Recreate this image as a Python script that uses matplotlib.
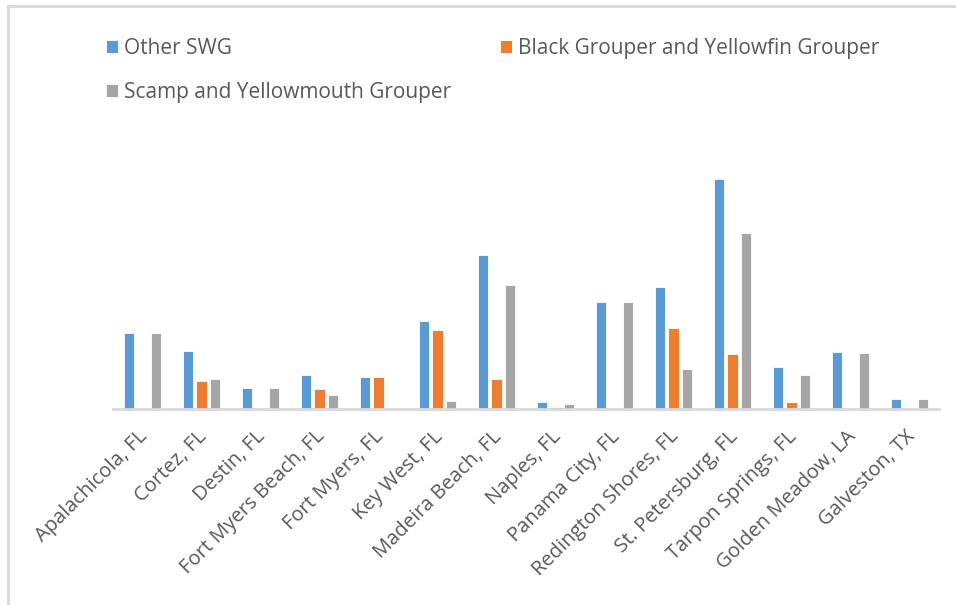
#! /usr/bin/env python3

import matplotlib
matplotlib.use("Agg")
import matplotlib.pyplot as plt
import matplotlib.transforms as mtransforms
from matplotlib.lines import Line2D
import numpy as np

ports = ['Apalachicola, FL', 'Cortez, FL', 'Destin, FL', 'Fort Myers Beach, FL',
         'Fort Myers, FL', 'Key West, FL', 'Madeira Beach, FL', 'Naples, FL',
         'Panama City, FL', 'Redington Shores, FL', 'St. Petersburg, FL',
         'Tarpon Springs, FL', 'Golden Meadow, LA', 'Galveston, TX']
other_swg = [75.8, 57.8, 20.8, 33.5, 31.2, 87.3, 154.0, 6.6, 106.6, 122.0, 229.3, 41.3, 56.6, 9.3]
black_yellowfin = [0, 27.2, 0, 19.2, 31.2, 78.3, 30.0, 1.6, 0, 81.0, 54.3, 7.0, 0, 0]
scamp_yellowmouth = [75.8, 29.8, 20.8, 13.2, 0, 8.0, 123.3, 4.3, 106.6, 40.0, 176.0, 33.6, 55.3, 9.3]

series = [('Other SWG', other_swg, '#5B9BD5'),
          ('Black Grouper and Yellowfin Grouper', black_yellowfin, '#ED7D31'),
          ('Scamp and Yellowmouth Grouper', scamp_yellowmouth, '#A5A5A5')]

plt.rcParams['font.family'] = ['Open Sans', 'DejaVu Sans']
txt = '#595959'

fig = plt.figure(figsize=(9.56, 6.05), dpi=100)
ax = fig.add_axes([113 / 956, 1 - 408.5 / 605, 826 / 956, 278.5 / 605])

ind = np.arange(len(ports))
width = 0.175
step = 0.229
handles = {}
for i, (name, vals, col) in enumerate(series):
    b = ax.bar(ind + (i - 1) * step, vals, width, color=col, label=name,
               edgecolor='white', linewidth=0.6)
    handles[name] = b

ax.set_xlim(-0.5, len(ports) - 0.5)
ax.set_ylim(0, 278.5)
for s in ['top', 'right', 'left']:
    ax.spines[s].set_visible(False)
ax.spines['bottom'].set_color('#D9D9D9')
ax.spines['bottom'].set_linewidth(2)
ax.set_yticks([])
ax.set_xticks(ind)
ax.set_xticklabels(ports, rotation=45, ha='right', va='top',
                   rotation_mode='anchor', fontsize=14.5, color=txt)
ax.tick_params(axis='x', length=0, pad=13)
# nudge labels a little to the left
shift = mtransforms.ScaledTranslation(-5 / 100, 0, fig.dpi_scale_trans)
for lbl in ax.get_xticklabels():
    lbl.set_transform(lbl.get_transform() + shift)

order = ['Other SWG', 'Scamp and Yellowmouth Grouper', 'Black Grouper and Yellowfin Grouper']
leg = fig.legend([handles[n] for n in order], order, ncol=2, loc='upper left',
                 bbox_to_anchor=(87 / 956, 1 - 19 / 605), frameon=False,
                 fontsize=15, handlelength=0.6, handleheight=0.6,
                 handletextpad=0.3, columnspacing=2.3, labelspacing=1.1)
for t in leg.get_texts():
    t.set_color(txt)

# chart border (top and left edges visible in the crop)
fig.add_artist(Line2D([8 / 956, 8 / 956], [0, 1 - 6 / 605], color='#D9D9D9', lw=2))
fig.add_artist(Line2D([8 / 956, 1], [1 - 6 / 605, 1 - 6 / 605], color='#D9D9D9', lw=2))

plt.savefig('out.png', dpi=100)
